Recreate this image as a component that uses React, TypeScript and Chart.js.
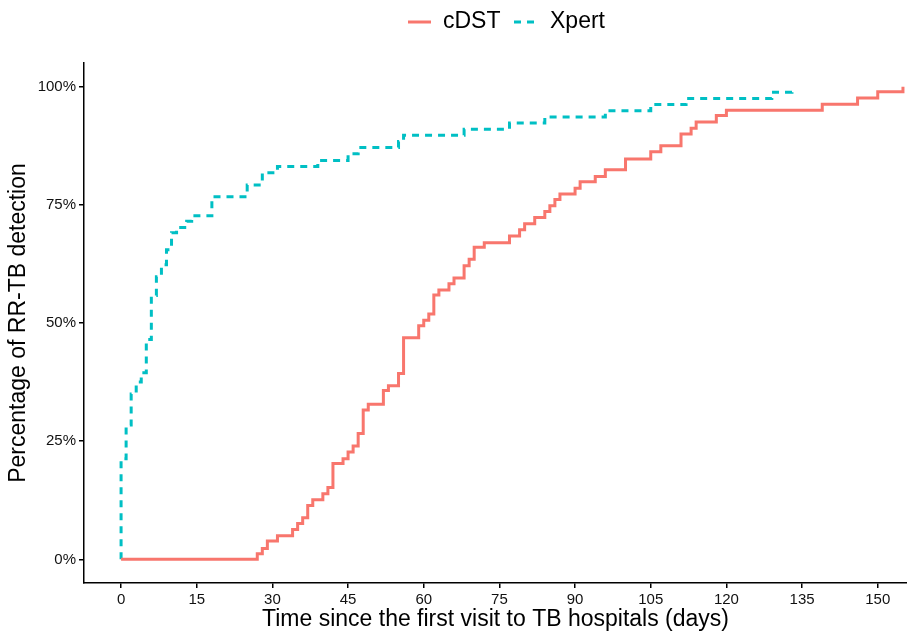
import React, { useEffect, useRef } from "react";
import { Chart, registerables } from "chart.js";

Chart.register(...registerables);

// ---- data ----
const cdstDays = [0, 27, 28, 29, 31, 34, 35, 36, 37, 38, 40, 41, 42, 44, 45, 46, 47, 48, 49, 52, 53, 55, 56, 59, 60, 61, 62, 63, 65, 66, 68, 69, 70, 72, 77, 79, 80, 82, 84, 85, 86, 87, 90, 91, 94, 96, 100, 105, 107, 111, 113, 114, 118, 120, 139, 146, 150, 155];
const cdstPct = [0, 1.2, 2.3, 3.9, 5.0, 6.3, 7.6, 8.8, 11.4, 12.6, 13.9, 15.2, 20.3, 21.3, 22.7, 24.0, 26.6, 31.6, 32.8, 35.7, 36.7, 39.3, 46.9, 49.4, 50.6, 51.9, 55.9, 57.0, 58.3, 59.5, 62.1, 63.5, 66.0, 67.0, 68.4, 69.7, 71.0, 72.3, 73.6, 74.8, 76.1, 77.3, 78.5, 79.9, 81.0, 82.4, 84.7, 86.2, 87.5, 90.0, 91.2, 92.5, 93.9, 95.0, 96.3, 97.6, 98.9, 100];

const xpertDays = [0, 0, 1, 2, 3, 4, 5, 6, 7, 8, 9, 10, 11, 13, 14, 18, 25, 28, 31, 39, 45, 47, 55, 56, 68, 77, 84, 96, 105, 112, 129, 133];
const xpertPct = [0, 21.3, 28.4, 35.0, 37.5, 39.5, 46.5, 55.8, 59.8, 62.3, 65.5, 69.1, 70.2, 71.5, 72.7, 76.7, 79.2, 81.8, 83.1, 84.4, 85.8, 87.1, 88.4, 89.7, 91.0, 92.3, 93.6, 94.9, 96.2, 97.5, 98.8, 100];

const seriesNames = ["cDST", "Xpert"];
const seriesColors = ["#F8766D", "#00BFC4"];

const xTicks = [0, 15, 30, 45, 60, 75, 90, 105, 120, 135, 150];
const yTicks = [0, 25, 50, 75, 100];

const xTitle = "Time since the first visit to TB hospitals (days)";
const yTitle = "Percentage of RR-TB detection";

const FAMILY = '"Liberation Sans", Arial, Helvetica, sans-serif';

const toPoints = (xs: number[], ys: number[]) => xs.map((x, i) => ({ x, y: ys[i] }));

const topLegend = {
  id: "topLegend",
  afterDraw(chart: any) {
    const ctx = chart.ctx as CanvasRenderingContext2D;
    const y = 22;
    ctx.save();
    ctx.font = `23px ${FAMILY}`;
    ctx.textBaseline = "middle";
    ctx.textAlign = "left";
    ctx.lineWidth = 3;
    ctx.lineCap = "butt";
    // cDST
    ctx.strokeStyle = seriesColors[0];
    ctx.setLineDash([]);
    ctx.beginPath();
    ctx.moveTo(408, y);
    ctx.lineTo(431, y);
    ctx.stroke();
    ctx.fillStyle = "#000";
    ctx.fillText(seriesNames[0], 443, y);
    // Xpert
    ctx.strokeStyle = seriesColors[1];
    ctx.setLineDash([7, 6]);
    ctx.beginPath();
    ctx.moveTo(514, y);
    ctx.lineTo(537, y);
    ctx.stroke();
    ctx.setLineDash([]);
    ctx.fillText(seriesNames[1], 550, y);
    ctx.restore();
  },
};

export default function App() {
  const ref = useRef<HTMLCanvasElement | null>(null);

  useEffect(() => {
    document.body.style.margin = "0";
    const canvas = ref.current;
    if (!canvas) return;
    const chart = new Chart(canvas, {
      type: "line",
      data: {
        datasets: [
          {
            label: seriesNames[0],
            data: toPoints(cdstDays, cdstPct),
            borderColor: seriesColors[0],
            backgroundColor: seriesColors[0],
            borderWidth: 3,
            pointRadius: 0,
            stepped: "before",
            fill: false,
            borderCapStyle: "butt",
          },
          {
            label: seriesNames[1],
            data: toPoints(xpertDays, xpertPct),
            borderColor: seriesColors[1],
            backgroundColor: seriesColors[1],
            borderWidth: 3,
            borderDash: [7, 6],
            pointRadius: 0,
            stepped: "before",
            fill: false,
            borderCapStyle: "butt",
          },
        ],
      },
      options: {
        responsive: false,
        animation: false,
        layout: { padding: { top: 63, left: 0, right: 0, bottom: 0 } },
        plugins: {
          legend: { display: false },
          tooltip: { enabled: false },
        },
        scales: {
          x: {
            type: "linear",
            min: -7.35,
            max: 155.8,
            afterBuildTicks: (s: any) => {
              s.ticks = xTicks.map((v) => ({ value: v }));
            },
            afterFit: (s: any) => {
              s.height = 48;
            },
            grid: { drawOnChartArea: false, drawTicks: true, tickLength: 5, color: "#000", lineWidth: 1.5 },
            border: { display: true, color: "#000", width: 1.5 },
            ticks: {
              color: "#111",
              font: { size: 15, family: FAMILY },
              padding: 3,
              maxRotation: 0,
              autoSkip: false,
            },
            title: {
              display: true,
              text: xTitle,
              color: "#000",
              font: { size: 23, family: FAMILY, lineHeight: 1 },
              padding: { top: 0, bottom: 0 },
            },
          },
          y: {
            type: "linear",
            min: -5,
            max: 105,
            afterBuildTicks: (s: any) => {
              s.ticks = yTicks.map((v) => ({ value: v }));
            },
            afterFit: (s: any) => {
              s.width = 84;
            },
            grid: { drawOnChartArea: false, drawTicks: true, tickLength: 5, color: "#000", lineWidth: 1.5 },
            border: { display: true, color: "#000", width: 1.5 },
            ticks: {
              color: "#111",
              font: { size: 15, family: FAMILY },
              padding: 3,
              callback: (v: any) => `${v}%`,
            },
            title: {
              display: true,
              text: yTitle,
              color: "#000",
              font: { size: 23, family: FAMILY },
              padding: { top: 5, bottom: 0 },
            },
          },
        },
      },
      plugins: [topLegend],
    });
    return () => chart.destroy();
  }, []);

  return (
    <div style={{ width: 907, height: 631, background: "#fff" }}>
      <canvas ref={ref} width={907} height={631} style={{ display: "block" }} />
    </div>
  );
}
